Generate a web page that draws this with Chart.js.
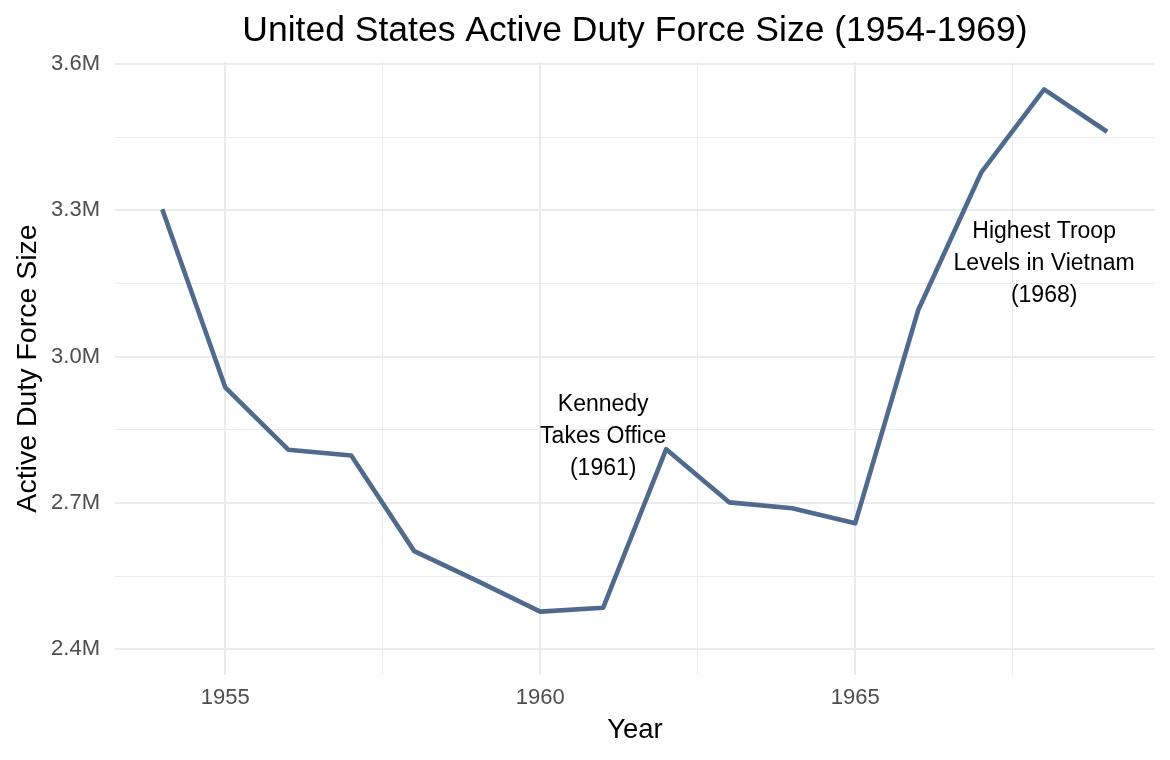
<!DOCTYPE html>
<html>
<head>
<meta charset="utf-8">
<script src="https://cdn.jsdelivr.net/npm/chart.js@4"></script>
<style>
  html, body { margin: 0; padding: 0; background: #fff; }
  #wrap { width: 1170px; height: 760px; position: relative; }
</style>
</head>
<body>
<div id="wrap"><canvas id="chart"></canvas></div>
<script>
// active duty personnel by year
const years = [1954, 1955, 1956, 1957, 1958, 1959, 1960, 1961, 1962, 1963, 1964, 1965, 1966, 1967, 1968, 1969];
const forceSize = [3302000, 2937000, 2809000, 2797000, 2601000, 2540000, 2477000, 2485000,
                   2810000, 2701000, 2689000, 2658000, 3095000, 3377000, 3548000, 3461000];

const xTicks = [1955, 1957.5, 1960, 1962.5, 1965, 1967.5];
const yTicks = [2400000, 2550000, 2700000, 2850000, 3000000, 3150000, 3300000, 3450000, 3600000];

const noteText = [['Kennedy', 'Takes Office', '(1961)'], ['Highest Troop', 'Levels in Vietnam', '(1968)']];
const noteX = [1961, 1968];
const noteY = [2836000, 3191000];

const FONT = '"Liberation Sans", Arial, Helvetica, sans-serif';
const GRID = '#ebebeb';

const notesPlugin = {
  id: 'notes',
  afterDatasetsDraw(chart) {
    const ctx = chart.ctx;
    const xs = chart.scales.x, ys = chart.scales.y;
    ctx.save();
    ctx.fillStyle = '#000';
    ctx.font = '23px ' + FONT;
    ctx.textAlign = 'center';
    ctx.textBaseline = 'middle';
    noteText.forEach((lines, i) => {
      const cx = xs.getPixelForValue(noteX[i]);
      const cy = ys.getPixelForValue(noteY[i]);
      lines.forEach((t, j) => ctx.fillText(t, cx, cy + (j - (lines.length - 1) / 2) * 32));
    });
    ctx.restore();
  },
  afterDraw(chart) {
    // title centred over the panel, like ggplot
    const ctx = chart.ctx;
    const a = chart.chartArea;
    ctx.save();
    ctx.fillStyle = '#000';
    ctx.font = '35.5px ' + FONT;
    ctx.textAlign = 'center';
    ctx.textBaseline = 'middle';
    ctx.fillText('United States Active Duty Force Size (1954-1969)', (a.left + a.right) / 2, 31);
    ctx.restore();
  }
};

new Chart(document.getElementById('chart'), {
  type: 'line',
  data: {
    datasets: [{
      data: years.map((y, i) => ({ x: y, y: forceSize[i] })),
      borderColor: '#4f6a8d',
      borderWidth: 4.6,
      borderCapStyle: 'butt',
      borderJoinStyle: 'round',
      pointRadius: 0,
      tension: 0,
      fill: false
    }]
  },
  options: {
    responsive: true,
    maintainAspectRatio: false,
    animation: false,
    devicePixelRatio: 1,
    layout: { padding: { top: 62, right: 15, bottom: 0, left: 0 } },
    scales: {
      x: {
        type: 'linear',
        min: 1953.25,
        max: 1969.76,
        afterBuildTicks: s => { s.ticks = xTicks.map(v => ({ value: v })); },
        afterFit: s => { s.height = 85; },
        border: { display: false },
        grid: {
          color: GRID,
          drawTicks: false,
          lineWidth: c => (c.tick && c.tick.value % 5 === 0 ? 2 : 1)
        },
        ticks: {
          autoSkip: false,
          maxRotation: 0,
          padding: 10,
          color: '#4d4d4d',
          font: { family: FONT, size: 22 },
          callback: v => (v % 5 === 0 ? String(v) : '')
        },
        title: {
          display: true,
          text: 'Year',
          color: '#000',
          font: { family: FONT, size: 27.5 },
          padding: { top: 0, bottom: 13 }
        }
      },
      y: {
        type: 'linear',
        min: 2347000,
        max: 3604000,
        afterBuildTicks: s => { s.ticks = yTicks.map(v => ({ value: v })); },
        afterFit: s => { s.width = 115; },
        border: { display: false },
        grid: {
          color: GRID,
          drawTicks: false,
          lineWidth: c => (c.tick && c.tick.value % 300000 === 0 ? 2 : 1)
        },
        ticks: {
          autoSkip: false,
          padding: 15,
          color: '#4d4d4d',
          font: { family: FONT, size: 22 },
          callback: v => (v % 300000 === 0 ? (v / 1e6).toFixed(1) + 'M' : '')
        },
        title: {
          display: true,
          text: 'Active Duty Force Size',
          color: '#000',
          font: { family: FONT, size: 28.5 },
          padding: { top: 11, bottom: 0 }
        }
      }
    },
    plugins: {
      legend: { display: false },
      tooltip: { enabled: false }
    }
  },
  plugins: [notesPlugin]
});
</script>
</body>
</html>
